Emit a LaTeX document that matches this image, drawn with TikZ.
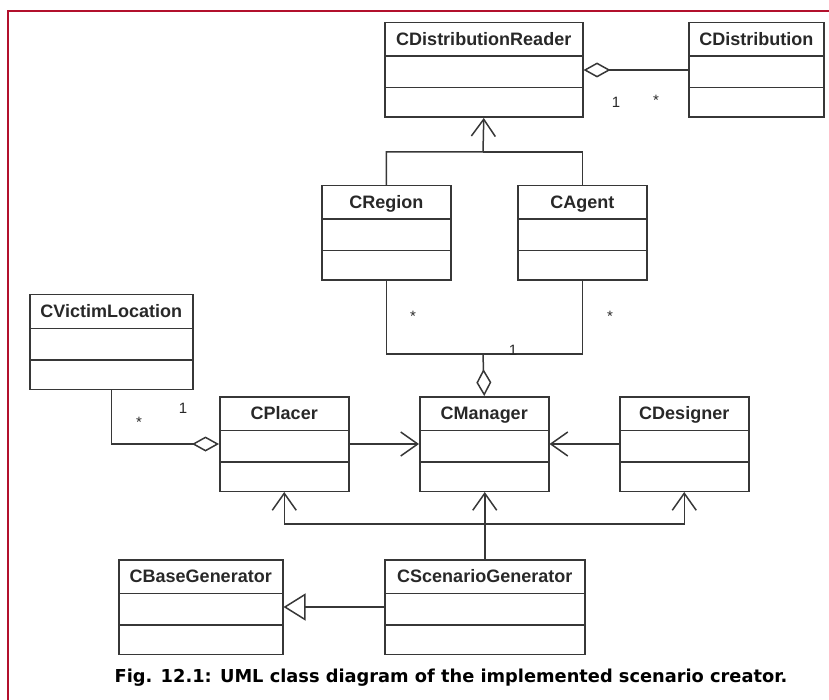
\documentclass[tikz,border=0pt]{standalone}
\usepackage{fontspec}
\setmainfont{Liberation Sans}
\newfontfamily\capfont{DejaVu Sans}
\usepackage{xcolor}
\usepackage{tikz}
\usetikzlibrary{shapes,arrows.meta,positioning}
\definecolor{framered}{RGB}{178,16,44}
\definecolor{linegray}{RGB}{55,55,55}
\definecolor{textgray}{RGB}{40,40,40}
\newcommand{\clstitle}{\rule[-10pt]{0pt}{32pt}}
\newcommand{\clsrest}{\nodepart{second}\rule{0pt}{30pt}\nodepart{third}\rule{0pt}{28pt}}

\begin{document}
\begin{tikzpicture}[x=1pt, y=-1pt]
    \tikzstyle{cls} = [rectangle split, rectangle split parts=3, draw=linegray, line width=1.5pt, inner xsep=0pt, inner ysep=0pt, align=center, anchor=north west, text=textgray, font=\fontsize{18}{20}\selectfont\bfseries]
    \tikzstyle{link} = [draw=linegray, line width=1.5pt]
    \tikzstyle{nav} = [link, -{Straight Barb[length=17pt, width=24pt]}]
    \tikzstyle{agg} = [link, -{Diamond[length=27pt, width=15pt, fill=white]}]
    \tikzstyle{gen} = [link, -{Triangle[length=22pt, width=27pt, fill=white]}]
    \tikzstyle{mult} = [text=textgray, font=\fontsize{15}{17}\selectfont, inner sep=0pt]

    \useasboundingbox (0,0) rectangle (829,700);
    \draw [framered, line width=2pt] (8,700) -- (8,11) -- (829,11);

    % Reader and distribution
    \node [cls, text width=198pt] (reader) at (384,22) {\clstitle CDistributionReader \clsrest};
    \node [cls, text width=135pt] (dist) at (688,22) {\clstitle CDistribution \clsrest};

    % Region and agent
    \node [cls, text width=129pt] (region) at (321,185) {\clstitle CRegion \clsrest};
    \node [cls, text width=129pt] (agent) at (517,185) {\clstitle CAgent \clsrest};

    % Middle row
    \node [cls, text width=163pt] (victim) at (29,294) {\clstitle CVictimLocation \clsrest};
    \node [cls, text width=129pt] (placer) at (219,396) {\clstitle CPlacer \clsrest};
    \node [cls, text width=129pt] (manager) at (419,396) {\clstitle CManager \clsrest};
    \node [cls, text width=129pt] (designer) at (619,396) {\clstitle CDesigner \clsrest};

    % Generators
    \node [cls, text width=164pt] (base) at (118,559) {\clstitle CBaseGenerator \clsrest};
    \node [cls, text width=200pt] (scen) at (384,559) {\clstitle CScenarioGenerator \clsrest};

    % Junctions
    \coordinate (upjoin) at (483,152);
    \coordinate (midjoin) at (483,354);
    \coordinate (lowjoin) at (484,524);

    % Arrows
    \draw [agg] (dist.west) -- (reader.east);
    \draw [nav] (region.north) |- (upjoin) -- (reader.south);
    \draw [link] (agent.north) |- (upjoin);
    \draw [link] (region.south) |- (midjoin);
    \draw [link] (agent.south) |- (midjoin);
    \draw [agg] (midjoin) -- (manager.north);
    \draw [agg] (victim.south) |- (placer.west);
    \draw [nav] (placer.east) -- (manager.west);
    \draw [nav] (designer.west) -- (manager.east);
    \draw [nav] (scen.north) -- (scen.north |- manager.south);
    \draw [nav] (lowjoin) -| (placer.south);
    \draw [nav] (lowjoin) -| (designer.south);
    \draw [gen] (scen.west) -- (base.east);

    % Multiplicities
    \node [mult] (readerone) at (616,102) {1};
    \node [mult] (diststar) at (656,100) {*};
    \node [mult] (regionstar) at (413,316) {*};
    \node [mult] (agentstar) at (610,316) {*};
    \node [mult] (managerone) at (513,350) {1};
    \node [mult] (victimstar) at (139,422) {*};
    \node [mult] (placerone) at (183,408) {1};

    % Caption
    \node [font=\capfont\bfseries\fontsize{17.8}{21}\selectfont, text=black, inner sep=0pt] (caption) at (451,678) {Fig. 12.1: UML class diagram of the implemented scenario creator.};
\end{tikzpicture}
\end{document}
